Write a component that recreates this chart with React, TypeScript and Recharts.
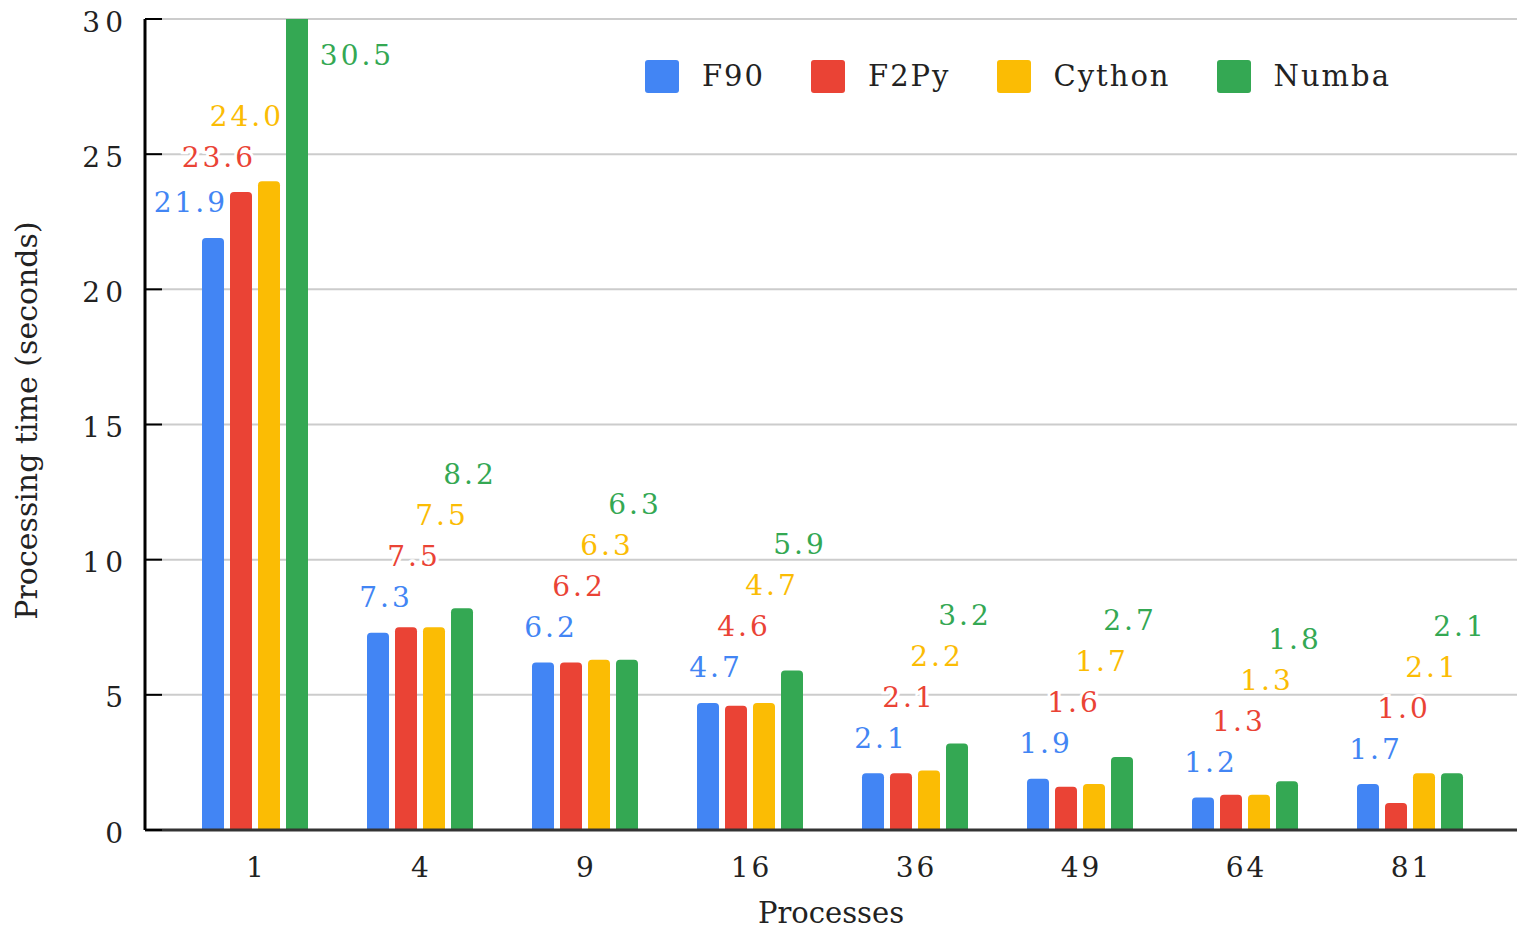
import { BarChart, Bar, XAxis, YAxis, CartesianGrid, Legend, LabelList } from 'recharts';

const processes = ['1', '4', '9', '16', '36', '49', '64', '81'];
const f90 = [21.9, 7.3, 6.2, 4.7, 2.1, 1.9, 1.2, 1.7];
const f2py = [23.6, 7.5, 6.2, 4.6, 2.1, 1.6, 1.3, 1.0];
const cython = [24.0, 7.5, 6.3, 4.7, 2.2, 1.7, 1.3, 2.1];
const numba = [30.5, 8.2, 6.3, 5.9, 3.2, 2.7, 1.8, 2.1];
const yTicks = [0, 5, 10, 15, 20, 25, 30];

const series = [
  { key: 'f90', name: 'F90', color: '#4285F4', values: f90 },
  { key: 'f2py', name: 'F2Py', color: '#EA4335', values: f2py },
  { key: 'cython', name: 'Cython', color: '#FBBC04', values: cython },
  { key: 'numba', name: 'Numba', color: '#34A853', values: numba },
];

const data = processes.map((p, i) => ({
  processes: p,
  f90: f90[i],
  f2py: f2py[i],
  cython: cython[i],
  numba: numba[i],
}));

const FONT = '"DejaVu Serif", "Liberation Serif", serif';
const TEXT = '#222';
const Y_MAX = 30;
const BAR_SIZE = 22;
const BAR_GAP = 6;
// labels sit above their bar and step upward so they don't collide
const LIFT = 35;
const STEP = 41;

const labelWidth = (t: string) =>
  t.split('').reduce((w, c) => w + (c === '.' ? 8.9 : 17.8) + 3, 0);

const makeLabel = (si: number) => (props: any) => {
  const vb = props.viewBox && props.viewBox.width != null ? props.viewBox : props;
  const { x, y, width, height } = vb;
  const index = props.index;
  const v = series[si].values[index];
  if (x == null || !v) return null;
  const base = y + height;
  const k = height / v;
  const plotTop = base - Y_MAX * k;
  const top = (j: number) => base - Math.min(series[j].values[index], Y_MAX) * k;

  let ly = Infinity;
  for (let j = 0; j <= si; j++) ly = Math.min(top(j) - LIFT, ly - STEP);

  const text = v.toFixed(1);
  const hw = labelWidth(text) / 2;
  let cx = x + width / 2 + 8;
  if (ly < plotTop + 20) {
    cx = x + width + 49;
    ly = plotTop + 36;
  } else {
    for (let j = si + 1; j < series.length; j++) {
      const bx = x + (j - si) * (width + BAR_GAP);
      if (cx + hw > bx && ly + 28 > top(j)) {
        cx = bx - 2 - hw;
        break;
      }
    }
  }
  return (
    <text
      x={cx}
      y={ly}
      textAnchor="middle"
      dominantBaseline="central"
      fill={series[si].color}
      stroke="#fff"
      strokeWidth={6}
      paintOrder="stroke"
      style={{ fontFamily: FONT, fontSize: 28, letterSpacing: 3 }}
    >
      {text}
    </text>
  );
};

const YTick = (props: any) => (
  <text
    x={props.x}
    y={props.y}
    dy={3}
    textAnchor="end"
    dominantBaseline="central"
    fill={TEXT}
    style={{ fontFamily: FONT, fontSize: 28, letterSpacing: 5 }}
  >
    {props.payload.value}
  </text>
);

const XTick = (props: any) => (
  <text
    x={props.x}
    y={props.y}
    dx={2}
    textAnchor="middle"
    fill={TEXT}
    style={{ fontFamily: FONT, fontSize: 28, letterSpacing: 3 }}
  >
    {props.payload.value}
  </text>
);

const yTitle = (props: any) => {
  const vb = props.viewBox;
  const cx = vb.x + 37;
  const cy = vb.y + vb.height / 2 - 4;
  return (
    <text
      x={cx}
      y={cy}
      textAnchor="middle"
      transform={`rotate(-90, ${cx}, ${cy})`}
      fill={TEXT}
      style={{ fontFamily: FONT, fontSize: 30 }}
    >
      Processing time (seconds)
    </text>
  );
};

const xTitle = (props: any) => {
  const vb = props.viewBox;
  return (
    <text
      x={vb.x + vb.width / 2}
      y={vb.y + 93}
      textAnchor="middle"
      fill={TEXT}
      style={{ fontFamily: FONT, fontSize: 29 }}
    >
      Processes
    </text>
  );
};

const LegendContent = () => (
  <div style={{ display: 'flex', alignItems: 'center', fontFamily: FONT }}>
    {series.map((s) => (
      <div key={s.key} style={{ display: 'flex', alignItems: 'center', marginRight: 46 }}>
        <div
          style={{ width: 34, height: 33, borderRadius: 3, background: s.color, marginRight: 23 }}
        />
        <span style={{ fontSize: 29, letterSpacing: 2, color: TEXT, lineHeight: '33px' }}>
          {s.name}
        </span>
      </div>
    ))}
  </div>
);

export default function App() {
  return (
    <div style={{ position: 'absolute', left: 0, top: 0, background: '#fff' }}>
      <BarChart
        width={1517}
        height={931}
        data={data}
        margin={{ top: 19, right: 0, bottom: 0, left: 0 }}
        barSize={BAR_SIZE}
        barGap={BAR_GAP}
      >
        <CartesianGrid vertical={false} stroke="#ccc" strokeWidth={2} />
        <XAxis
          dataKey="processes"
          height={101}
          padding={{ left: 27, right: 25 }}
          tickSize={0}
          tickMargin={47}
          tick={<XTick />}
          axisLine={{ stroke: '#333', strokeWidth: 3 }}
          label={xTitle}
        />
        <YAxis
          width={145}
          type="number"
          domain={[0, Y_MAX]}
          ticks={yTicks}
          allowDataOverflow
          interval={0}
          tickSize={-17}
          tickMargin={34}
          tick={<YTick />}
          tickLine={{ stroke: '#000', strokeWidth: 2 }}
          axisLine={{ stroke: '#000', strokeWidth: 3 }}
          label={yTitle}
        />
        <Legend
          layout="horizontal"
          verticalAlign="middle"
          align="center"
          wrapperStyle={{ top: 60, left: 645, right: 'auto', bottom: 'auto', width: 860 }}
          content={LegendContent}
        />
        {series.map((s, si) => (
          <Bar
            key={s.key}
            dataKey={s.key}
            name={s.name}
            fill={s.color}
            radius={[4, 4, 0, 0]}
            isAnimationActive={false}
          >
            <LabelList dataKey={s.key} content={makeLabel(si)} />
          </Bar>
        ))}
      </BarChart>
    </div>
  );
}
